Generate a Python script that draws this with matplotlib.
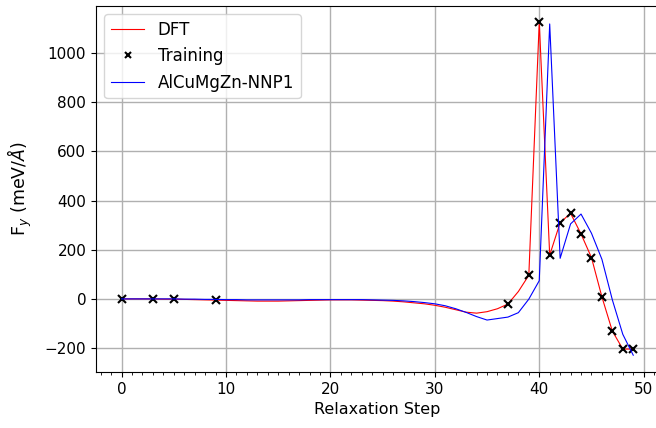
import numpy as np
import matplotlib
matplotlib.use('Agg')
import matplotlib.pyplot as plt
from matplotlib.ticker import MultipleLocator

# relaxation steps
steps = list(range(50))

# DFT force (meV/A)
dft = [0, 0, 0, 0, -1, -1, -2, -3, -4, -5,
       -6, -7, -8, -9, -9, -9, -8, -7, -6, -5,
       -4, -4, -4, -5, -6, -7, -9, -12, -16, -20,
       -26, -34, -44, -54, -58, -52, -40, -21, 30, 96,
       1126, 178, 310, 348, 264, 168, 8, -131, -204, -204]

# NNP prediction (meV/A)
nnp = [0, 0, 0, 0, 0, 0, -1, -1, -2, -2,
       -3, -3, -4, -4, -4, -4, -4, -4, -3, -3,
       -3, -3, -3, -3, -4, -5, -6, -8, -11, -15,
       -20, -28, -40, -55, -72, -86, -80, -74, -56, -1,
       74, 1118, 165, 305, 345, 267, 161, -4, -144, -229]

# training points
train_steps = [0, 3, 5, 9, 37, 39, 40, 41, 42, 43, 44, 45, 46, 47, 48, 49]
train_vals = [0, 0, 0, -5, -21, 96, 1126, 178, 310, 348, 264, 168, 8, -131, -204, -204]

fig = plt.figure(figsize=(6.56, 4.28), dpi=100)
ax = fig.add_axes([0.1463, 0.131, 0.858, 0.855])

ax.plot(steps, dft, color='red', lw=0.8, label='DFT')
ax.plot(train_steps, train_vals, 'x', color='black', ms=6, mew=1.5, label='Training')
ax.plot(steps, nnp, color='blue', lw=0.8, label='AlCuMgZn-NNP1')

ax.set_xlim(-2.45, 51.45)
ax.set_ylim(-297, 1191)
ax.xaxis.set_minor_locator(MultipleLocator(1))
ax.grid(True, color='#b0b0b0', lw=1)
ax.set_axisbelow(True)
ax.set_xlabel('Relaxation Step', fontsize=11.5)
ax.set_ylabel('F$_y$ (meV/$\\AA$)', fontsize=12.5, labelpad=8)
ax.tick_params(labelsize=11)
ax.legend(loc='upper left', fontsize=12, markerscale=0.8)

fig.savefig('out.png', dpi=100)
